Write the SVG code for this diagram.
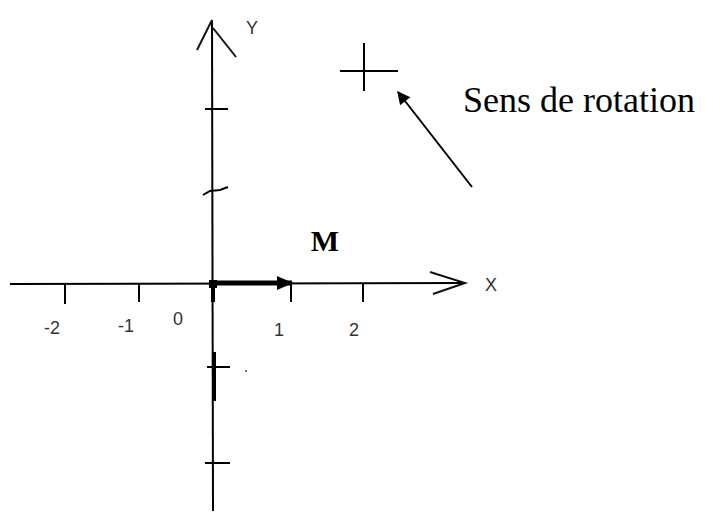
<svg xmlns="http://www.w3.org/2000/svg" width="705" height="514" viewBox="0 0 705 514">
<defs>
<style>
.ax{stroke:#000;stroke-width:2;fill:none;stroke-linecap:butt}
.thin{stroke:#111;stroke-width:2;fill:none}
.lbl{font-family:"Liberation Sans",Arial,sans-serif;font-size:18px;fill:#333;text-anchor:middle}
.ser{font-family:"Liberation Serif","Times New Roman",serif;fill:#000}
</style>
<marker id="ah" viewBox="0 0 10 10" refX="9" refY="5" markerWidth="16" markerHeight="13" markerUnits="userSpaceOnUse" orient="auto">
<path d="M0,0 L10,5 L0,10 z" fill="#000"/>
</marker>
<marker id="ah2" viewBox="0 0 16 14" refX="15" refY="7" markerWidth="16" markerHeight="14" markerUnits="userSpaceOnUse" orient="auto">
<path d="M0,0 L16,7 L0,14 z" fill="#000"/>
</marker>
</defs>
<rect width="705" height="514" fill="#fff"/>
<g id="axes">
<line class="ax" x1="212" y1="20" x2="213" y2="511"/>
<line class="ax" x1="10" y1="284" x2="465" y2="283"/>
<polyline class="thin" points="197,50 212,20"/>
<polyline class="thin" points="213,28 236,57"/>
<polyline class="thin" points="430,272 465,283 433,294"/>
<line class="ax" x1="205" y1="109" x2="228" y2="109"/>
<polyline class="ax" points="203,195 210,191 220,190 228,187"/>
<line class="ax" x1="207" y1="367" x2="230" y2="367"/>
<line class="ax" x1="205" y1="463" x2="230" y2="463"/>
<line class="ax" x1="65" y1="284" x2="65" y2="304"/>
<line class="ax" x1="139" y1="284" x2="139" y2="302"/>
<line class="ax" x1="291" y1="284" x2="291" y2="302"/>
<line class="ax" x1="363" y1="284" x2="363" y2="302"/>
<line stroke="#000" stroke-width="4" x1="213" y1="282" x2="213" y2="302"/>
<line stroke="#000" stroke-width="4" x1="214" y1="352" x2="214" y2="401"/>
<rect x="209" y="280" width="8" height="8" fill="#000"/>
<circle cx="246" cy="371" r="1" fill="#444"/>
</g>
<g id="labels">
<text class="lbl" x="252" y="34">Y</text>
<text class="lbl" x="491" y="291">X</text>
<text class="lbl" x="52" y="334">-2</text>
<text class="lbl" x="126" y="332">-1</text>
<text class="lbl" x="178" y="325">0</text>
<text class="lbl" x="279" y="336">1</text>
<text class="lbl" x="354" y="336">2</text>
</g>
<g id="vector-M">
<line stroke="#000" stroke-width="5" x1="212" y1="283" x2="292" y2="283" marker-end="url(#ah2)"/>
<text class="ser" x="325" y="251" font-size="30" font-weight="bold" text-anchor="middle">M</text>
</g>
<g id="rotation">
<line class="ax" x1="340" y1="71" x2="398" y2="71"/>
<line class="ax" x1="364" y1="43" x2="364" y2="91"/>
<text class="ser" x="463" y="112" font-size="36">Sens de rotation</text>
</g>
<g id="connectors">
<line stroke="#000" stroke-width="2" x1="472" y1="187" x2="398" y2="92" marker-end="url(#ah)"/>
</g>
</svg>
